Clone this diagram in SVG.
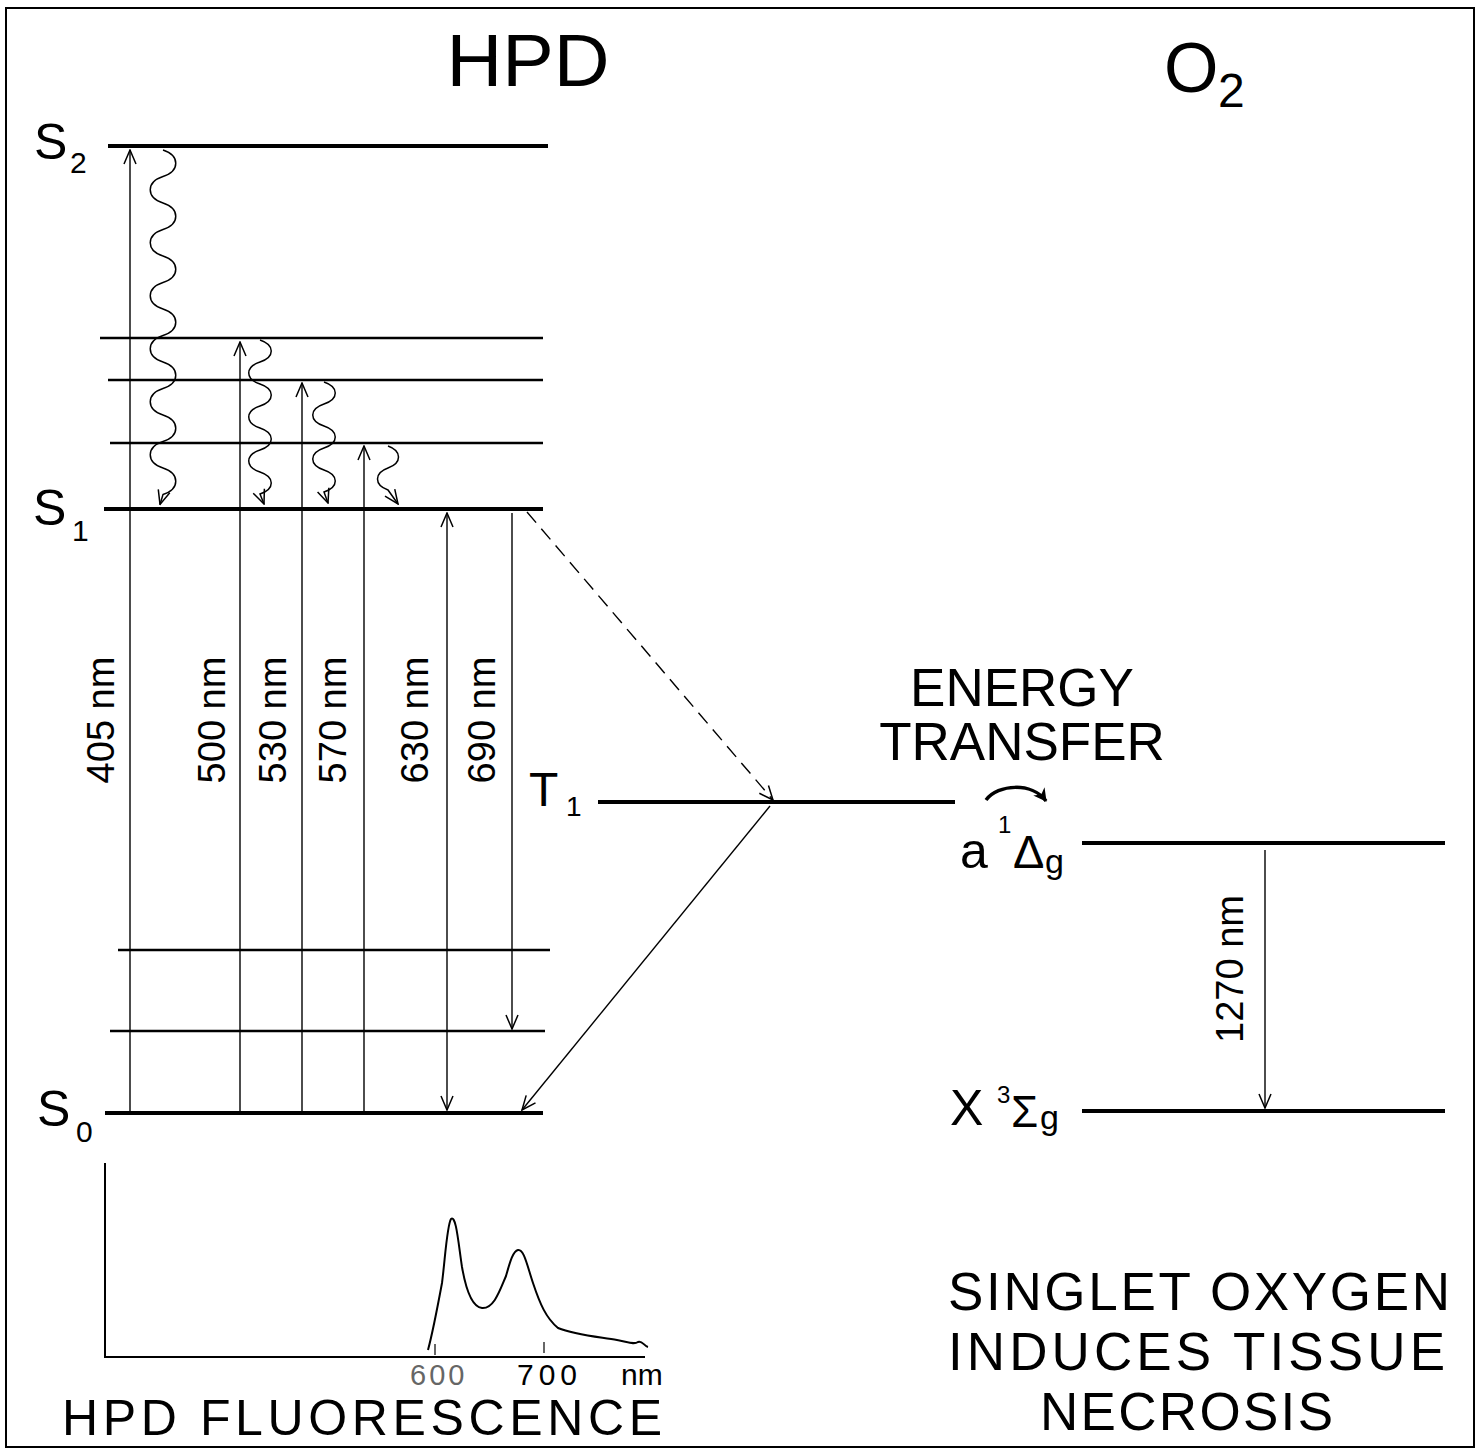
<svg xmlns="http://www.w3.org/2000/svg" width="1482" height="1452" viewBox="0 0 1482 1452">
<style>
text{font-family:"Liberation Sans",Arial,sans-serif;fill:#000}
.lvl{stroke:#000;stroke-width:4;fill:none}
.vib{stroke:#000;stroke-width:2.6;fill:none}
.arr{stroke:#000;stroke-width:1.4;fill:none}
.wav{stroke:#000;stroke-width:1.5;fill:none}
.nm{font-size:38px}
.big{font-size:53px}
</style>
<defs>
<marker id="ah" viewBox="0 0 16 16" refX="15" refY="8" markerWidth="16" markerHeight="16" markerUnits="userSpaceOnUse" orient="auto-start-reverse">
<path d="M1,2 L15,8 L1,14" fill="none" stroke="#000" stroke-width="1.5"/>
</marker>
<marker id="ahf" viewBox="0 0 14 14" refX="12" refY="7" markerWidth="14" markerHeight="14" markerUnits="userSpaceOnUse" orient="auto">
<path d="M0,0 L13,7 L0,14 L4,7 z" fill="#000"/>
</marker>
</defs>
<rect width="1482" height="1452" fill="#fff"/>
<rect x="6" y="8" width="1468" height="1439" fill="none" stroke="#000" stroke-width="2"/>

<g id="titles">
<text x="528" y="86" font-size="75" text-anchor="middle" transform="translate(528,0) scale(1.03,1) translate(-528,0)">HPD</text>
<text x="1164" y="92" font-size="70">O</text>
<text x="1218" y="107" font-size="48">2</text>
</g>

<g id="hpd-levels">
<g id="S2"><line class="lvl" x1="108" y1="146" x2="548" y2="146"/><text x="34" y="159" font-size="50">S</text><text x="70" y="173" font-size="30">2</text></g>
<line class="vib" x1="100" y1="338" x2="543" y2="338"/>
<line class="vib" x1="108" y1="380" x2="543" y2="380"/>
<line class="vib" x1="110" y1="443" x2="543" y2="443"/>
<g id="S1"><line class="lvl" x1="104" y1="509" x2="543" y2="509"/><text x="33" y="525" font-size="50">S</text><text x="72" y="541" font-size="30">1</text></g>
<line class="vib" x1="118" y1="950" x2="550" y2="950"/>
<line class="vib" x1="110" y1="1031" x2="545" y2="1031"/>
<g id="S0"><line class="lvl" x1="105" y1="1113" x2="543" y2="1113"/><text x="37" y="1126" font-size="50">S</text><text x="76" y="1142" font-size="30">0</text></g>
<g id="T1"><line class="lvl" x1="598" y1="802" x2="955" y2="802"/><text x="529" y="806" font-size="48">T</text><text x="566" y="816" font-size="28">1</text></g>
</g>

<g id="o2-levels">
<g id="a1Dg"><line class="lvl" x1="1082" y1="843" x2="1445" y2="843"/>
<text x="960" y="868" font-size="50">a</text><text x="998" y="833" font-size="24">1</text><text x="1013" y="868" font-size="47">Δ</text><text x="1045" y="873" font-size="34">g</text></g>
<g id="X3Sg"><line class="lvl" x1="1082" y1="1111" x2="1445" y2="1111"/>
<text x="950" y="1125" font-size="50">X</text><text x="997" y="1103" font-size="24">3</text><text x="1011" y="1127" font-size="44">Σ</text><text x="1040" y="1129" font-size="34">g</text></g>
</g>

<g id="connectors">
<line class="arr" x1="130" y1="1113" x2="130" y2="150" marker-end="url(#ah)"/>
<line class="arr" x1="240" y1="1113" x2="240" y2="342" marker-end="url(#ah)"/>
<line class="arr" x1="302" y1="1113" x2="302" y2="383" marker-end="url(#ah)"/>
<line class="arr" x1="364" y1="1113" x2="364" y2="446" marker-end="url(#ah)"/>
<line class="arr" x1="447" y1="513" x2="447" y2="1110" marker-start="url(#ah)" marker-end="url(#ah)"/>
<line class="arr" x1="512" y1="513" x2="512" y2="1029" marker-end="url(#ah)"/>
<line class="arr" x1="1265" y1="850" x2="1265" y2="1108" marker-end="url(#ah)"/>
<line class="arr" x1="527" y1="512" x2="773" y2="800" stroke-dasharray="14 8" marker-end="url(#ah)"/>
<line class="arr" x1="770" y1="806" x2="522" y2="1110" marker-end="url(#ah)"/>
<path class="wav" d="M163,150 c17,5.5 17,21 0,26.5 c-17,5.5 -17,21 0,26.5 c17,5.5 17,21 0,26.5 c-17,5.5 -17,21 0,26.5 c17,5.5 17,21 0,26.5 c-17,5.5 -17,21 0,26.5 c17,5.5 17,21 0,26.5 c-17,5.5 -17,21 0,26.5 c17,5.5 17,21 0,26.5 c-17,5.5 -17,21 0,26.5 c17,5.5 17,21 0,26.5 c-17,5.5 -17,21 0,26.5 c17,5.5 17,21 0,26.5 l-3,10" marker-end="url(#ah)"/>
<path class="wav" d="M260,340 c15,5 15,17 0,22 c-15,5 -15,17 0,22 c15,5 15,17 0,22 c-15,5 -15,17 0,22 c15,5 15,17 0,22 c-15,5 -15,17 0,22 c15,5 15,17 0,22 l4,10" marker-end="url(#ah)"/>
<path class="wav" d="M324,382 c15,5 15,17 0,22 c-15,5 -15,17 0,22 c15,5 15,17 0,22 c-15,5 -15,17 0,22 c15,5 15,17 0,22 l4,11" marker-end="url(#ah)"/>
<path class="wav" d="M388,446 c14,5 14,17 0,22 c-14,5 -14,17 0,22 l10,14" marker-end="url(#ah)"/>
<path d="M986,800 C998,784 1032,782 1046,801" fill="none" stroke="#000" stroke-width="3.5" marker-end="url(#ahf)"/>
</g>

<g id="wavelength-labels" class="nm">
<text transform="translate(114,720) rotate(-90)" text-anchor="middle">405 nm</text>
<text transform="translate(225,720) rotate(-90)" text-anchor="middle">500 nm</text>
<text transform="translate(286,720) rotate(-90)" text-anchor="middle">530 nm</text>
<text transform="translate(346,720) rotate(-90)" text-anchor="middle">570 nm</text>
<text transform="translate(428,720) rotate(-90)" text-anchor="middle">630 nm</text>
<text transform="translate(495,720) rotate(-90)" text-anchor="middle">690 nm</text>
<text transform="translate(1243,969) rotate(-90)" text-anchor="middle">1270 nm</text>
</g>

<g id="energy-transfer">
<text x="1022" y="706" class="big" text-anchor="middle">ENERGY</text>
<text x="1022" y="760" class="big" text-anchor="middle">TRANSFER</text>
</g>

<g id="spectrum">
<polyline fill="none" stroke="#000" stroke-width="2" points="105,1163 105,1357 645,1357"/>
<line x1="435" y1="1344" x2="435" y2="1355" stroke="#000" stroke-width="1.2"/>
<line x1="544" y1="1342" x2="544" y2="1353" stroke="#000" stroke-width="1.2"/>
<path fill="none" stroke="#000" stroke-width="2" d="M428,1350 C432,1335 437,1310 442,1283 C445,1260 447,1225 451,1219 C456,1215 458,1240 462,1267 C466,1290 472,1307 482,1308 C494,1309 500,1290 506,1276 C510,1262 513,1251 518,1250 C524,1249 527,1265 533,1283 C540,1304 546,1318 558,1328 C575,1335 600,1337 617,1340 C628,1342 634,1345 638,1342 C642,1340 644,1346 648,1347"/>
<text x="410" y="1385" font-size="29" letter-spacing="3" style="fill:#666">600</text>
<text x="517" y="1385" font-size="30" letter-spacing="5">700</text>
<text x="621" y="1385" font-size="30">nm</text>
<text x="62" y="1435" font-size="50" textLength="600" lengthAdjust="spacing">HPD FLUORESCENCE</text>
</g>

<g id="conclusion" class="big">
<text x="948" y="1310" textLength="502" lengthAdjust="spacing">SINGLET OXYGEN</text>
<text x="948" y="1370" textLength="497" lengthAdjust="spacing">INDUCES TISSUE</text>
<text x="1040" y="1430" textLength="293" lengthAdjust="spacing">NECROSIS</text>
</g>
</svg>
